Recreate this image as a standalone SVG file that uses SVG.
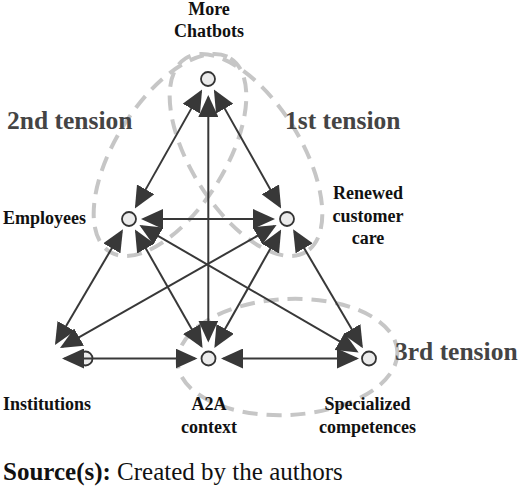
<svg xmlns="http://www.w3.org/2000/svg" width="520" height="489" viewBox="0 0 520 489">
<defs>
<marker id="ah" viewBox="0 0 22 20" refX="19.5" refY="10" markerWidth="22" markerHeight="20" markerUnits="userSpaceOnUse" orient="auto-start-reverse">
<path d="M0,0 L22,10 L0,20 z" fill="#383838"/>
</marker>
</defs>
<style>
.loop{fill:none;stroke:#c6c6c6;stroke-width:4;stroke-dasharray:15 9}
.tl{font-family:"Liberation Serif","Times New Roman",serif;font-weight:bold;font-size:25.5px;fill:#444}
.lb{font-family:"Liberation Serif","Times New Roman",serif;font-weight:bold;font-size:18px;fill:#111}
.nd{fill:#ebebeb;stroke:#333;stroke-width:1.8}
.cn line{stroke:#383838;stroke-width:2;marker-start:url(#ah);marker-end:url(#ah)}
.src{font-family:"Liberation Serif","Times New Roman",serif;font-size:25px;fill:#111}
</style>
<rect width="520" height="489" fill="#fff"/>
<g id="tensions">
<ellipse class="loop" cx="246" cy="155" rx="114" ry="55" transform="rotate(58 246 155)"/>
<ellipse class="loop" cx="170" cy="155" rx="114" ry="55" transform="rotate(-58 170 155)"/>
<ellipse class="loop" cx="287.5" cy="357" rx="110" ry="58" transform="rotate(-3 287.5 357)"/>
<text class="tl" x="285" y="128.5">1st tension</text>
<text class="tl" x="7" y="128.5">2nd tension</text>
<text class="tl" x="395" y="360">3rd tension</text>
</g>
<g id="node-chatbots">
<circle class="nd" cx="208" cy="79" r="7"/>
<text class="lb" x="209" y="15" text-anchor="middle">More</text>
<text class="lb" x="209" y="37.3" text-anchor="middle">Chatbots</text>
</g>
<g id="node-employees">
<circle class="nd" cx="129" cy="219" r="7"/>
<text class="lb" x="3" y="223.5">Employees</text>
</g>
<g id="node-renewed">
<circle class="nd" cx="287" cy="219" r="7"/>
<text class="lb" x="368" y="198.5" text-anchor="middle">Renewed</text>
<text class="lb" x="368" y="221.5" text-anchor="middle">customer</text>
<text class="lb" x="368" y="243.5" text-anchor="middle">care</text>
</g>
<g id="node-institutions">
<circle class="nd" cx="85.5" cy="358.5" r="7"/>
<text class="lb" x="3" y="410">Institutions</text>
</g>
<g id="node-a2a">
<circle class="nd" cx="208.5" cy="358.5" r="7"/>
<text class="lb" x="209" y="410" text-anchor="middle">A2A</text>
<text class="lb" x="209" y="432.5" text-anchor="middle">context</text>
</g>
<g id="node-specialized">
<circle class="nd" cx="369" cy="358.5" r="7"/>
<text class="lb" x="367.5" y="410" text-anchor="middle">Specialized</text>
<text class="lb" x="367.5" y="432.5" text-anchor="middle">competences</text>
</g>
<g id="connectors" class="cn">
<line x1="200.87" y1="91.63" x2="136.13" y2="206.37"/>
<line x1="215.13" y1="91.63" x2="279.87" y2="206.37"/>
<line x1="208.3" y1="97.5" x2="208.3" y2="340"/>
<line x1="143.5" y1="219" x2="272.5" y2="219"/>
<line x1="121.66" y1="231.5" x2="56.27" y2="342.84"/>
<line x1="274.39" y1="226.16" x2="62.17" y2="346.76"/>
<line x1="64.5" y1="358.5" x2="195" y2="358.5"/>
<line x1="136.18" y1="231.6" x2="201.32" y2="345.9"/>
<line x1="279.89" y1="231.64" x2="215.61" y2="345.86"/>
<line x1="141.54" y1="226.29" x2="356.46" y2="351.21"/>
<line x1="294.35" y1="231.5" x2="361.65" y2="346"/>
<line x1="223.5" y1="358.5" x2="356.5" y2="358.5"/>
</g>
<text class="src" x="3" y="480"><tspan font-weight="bold">Source(s):</tspan> Created by the authors</text>
</svg>
